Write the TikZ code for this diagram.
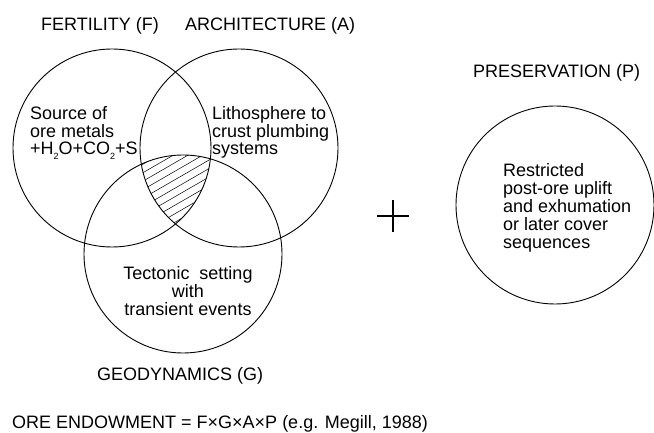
\documentclass[tikz,border=0pt]{standalone}
\usepackage{fontspec}
\setmainfont{Liberation Sans}
\usetikzlibrary{positioning}
\newcommand{\sublow}[1]{\raisebox{-0.45ex}{\fontsize{9}{9}\selectfont #1}}

\begin{document}
\begin{tikzpicture}[
    x=1pt, y=-1pt,
    font=\fontsize{18}{17.8}\selectfont,
    ring/.style={circle, draw, line width=0.9pt, minimum size=198pt, inner sep=0pt},
    caption/.style={inner sep=0pt, anchor=base west},
    blurb/.style={inner sep=0pt, align=left, anchor=base west},
    hatch/.style={line width=0.5pt},
    plusarm/.style={line width=2.6pt}
]
\useasboundingbox (0,0) rectangle (654,433);

% the four factors
\node[ring] (F) at (112,148) {};
\node[ring] (A) at (239,148) {};
\node[ring] (G) at (183,254) {};
\node[ring] (P) at (555,205) {};

% hatched overlap of F, A and G
\begin{scope}
  \clip (112,148) circle[radius=99pt];
  \clip (239,148) circle[radius=99pt];
  \clip (183,254) circle[radius=99pt];
  \foreach \k in {0,...,18}
    \draw[hatch] (100,172+8.5*\k) -- ++(200,-115.5);
\end{scope}

% headings
\node[caption] (fhead) at (41,31) {FERTILITY (F)};
\node[caption] (ahead) at (185,31) {ARCHITECTURE (A)};
\node[caption] (phead) at (473,78) {PRESERVATION (P)};
\node[caption] (ghead) at (97,380) {GEODYNAMICS (G)};

% texts inside the circles (anchored on the last line)
\node[blurb] (ftext) at (30,155) {Source of\\ore metals\\+H\sublow{2}O+CO\sublow{2}+S};
\node[blurb] (atext) at (212,155) {Lithosphere to\\crust plumbing\\systems};
\node[blurb, align=center, anchor=base] (gtext) at (188,315) {Tectonic\ \ setting\\with\\transient events};
\node[blurb] (ptext) at (503,248) {Restricted\\post-ore uplift\\and exhumation\\or later cover\\sequences};

% plus between the two groups
\coordinate (plus) at (393,216);
\draw[plusarm] ([xshift=-16pt]plus) -- ([xshift=16pt]plus);
\draw[plusarm] ([yshift=-16pt]plus) -- ([yshift=16pt]plus);

% formula
\node[caption] (formula) at (12,428) {ORE ENDOWMENT = F×G×A×P (e.g. Megill, 1988)};
\end{tikzpicture}
\end{document}
